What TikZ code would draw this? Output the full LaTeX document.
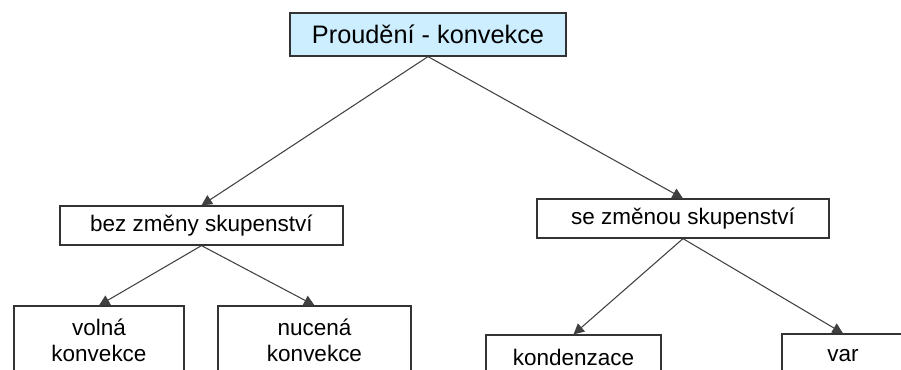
\documentclass[tikz,border=0pt]{standalone}
\usepackage{fontspec}
\setmainfont{Liberation Sans}
\usetikzlibrary{arrows.meta}
\definecolor{headblue}{RGB}{204,238,255}

\begin{document}
\begin{tikzpicture}[font=\fontsize{12.8}{14.8}\selectfont,
  box/.style={draw=black!80,line width=0.7pt,fill=white,inner sep=0pt,align=center},
  arr/.style={-{Triangle[width=6pt,length=6pt]},draw=black!75,line width=0.6pt}]
\useasboundingbox (0,0) rectangle (18.02,-7.38);
\clip (0,0) rectangle (18.02,-7.38);
% root
\node[box,fill=headblue,minimum width=5.52cm,minimum height=0.86cm,font=\fontsize{14.4}{16}\selectfont] (conv) at (8.56,-0.69) {Proudění - konvekce};
% second level
\node[box,minimum width=5.66cm,minimum height=0.78cm] (bez) at (4.03,-4.51) {bez změny skupenství};
\node[box,minimum width=5.84cm,minimum height=0.78cm] (se) at (13.66,-4.37) {se změnou skupenství};
% leaves
\node[box,minimum width=3.4cm,minimum height=1.36cm] (volna) at (1.98,-6.80) {volná\\konvekce};
\node[box,minimum width=3.86cm,minimum height=1.36cm] (nucena) at (6.29,-6.80) {nucená\\konvekce};
\node[box,minimum width=3.5cm,minimum height=0.88cm] (kond) at (11.47,-7.14) {kondenzace};
\node[box,minimum width=2.44cm,minimum height=0.88cm] (var) at (16.86,-7.12) {var};
% connectors
\draw[arr] (conv.south) -- (bez.north);
\draw[arr] (conv.south) -- (se.north);
\draw[arr] (bez.south) -- (volna.north);
\draw[arr] (bez.south) -- (nucena.north);
\draw[arr] (se.south) -- (kond.north);
\draw[arr] (se.south) -- (var.north);
\end{tikzpicture}
\end{document}
